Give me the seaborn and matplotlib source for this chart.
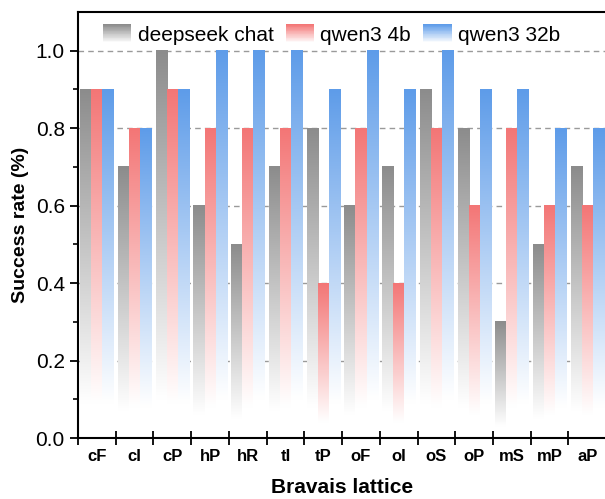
"""Success rate per Bravais lattice, grouped gradient bars."""

import matplotlib
matplotlib.use("Agg")
import matplotlib.pyplot as plt
import matplotlib.colors as mcolors
from matplotlib.legend_handler import HandlerBase
from matplotlib.patches import Rectangle
import numpy as np
import pandas as pd
import seaborn as sns

lattices = ["cF", "cI", "cP", "hP", "hR", "tI", "tP", "oF", "oI", "oS", "oP", "mS", "mP", "aP"]
models = ["deepseek chat", "qwen3 4b", "qwen3 32b"]
deepseek_chat = [0.9, 0.7, 1.0, 0.6, 0.5, 0.7, 0.8, 0.6, 0.7, 0.9, 0.8, 0.3, 0.5, 0.7]
qwen3_4b = [0.9, 0.8, 0.9, 0.8, 0.8, 0.8, 0.4, 0.8, 0.4, 0.8, 0.6, 0.8, 0.6, 0.6]
qwen3_32b = [0.9, 0.8, 0.9, 1.0, 1.0, 1.0, 0.9, 1.0, 0.9, 1.0, 0.9, 0.9, 0.8, 0.8]
colors = ["#8c8c8c", "#f37676", "#5e9ce9"]

sns.set_theme(style="ticks")
plt.rcParams["font.family"] = ["Liberation Sans", "DejaVu Sans"]
plt.rcParams.update({"text.color": "black", "axes.labelcolor": "black",
                     "xtick.color": "black", "ytick.color": "black"})


def fade(color, n=200, start=0.1):
    # rows go bottom -> top: white near the base, full colour at the top
    t = np.linspace(0, 1, n)
    mix = np.clip((t - start) / (1 - start), 0, 1)
    rgb = np.array(mcolors.to_rgb(color))
    img = 1 - mix[:, None] * (1 - rgb[None, :])
    return img[:, None, :]


class GradientHandler(HandlerBase):
    def create_artists(self, legend, orig, xd, yd, width, height, fontsize, trans):
        color = orig.get_facecolor()
        strips = fade(color, n=24, start=0.0)[:, 0, :]
        arts = []
        h = height / len(strips)
        for i, c in enumerate(strips):
            r = Rectangle((-xd, -yd + i * h), width, h * 1.02, facecolor=c,
                          edgecolor="none", transform=trans)
            arts.append(r)
        return arts


df = pd.DataFrame({
    "lattice": lattices * 3,
    "model": sum([[m] * len(lattices) for m in models], []),
    "rate": deepseek_chat + qwen3_4b + qwen3_32b,
})

fig = plt.figure(figsize=(6.05, 4.99), dpi=100)
ax = fig.add_axes([0.129, 0.1222, 0.873, 0.854])

sns.barplot(df, x="lattice", y="rate", hue="model", hue_order=models,
            palette=colors, saturation=1, width=0.88, gap=0, legend=False,
            ax=ax, edgecolor="none", linewidth=0)

for patch in list(ax.patches):
    x0, w, h = patch.get_x(), patch.get_width(), patch.get_height()
    fc = patch.get_facecolor()
    ax.imshow(fade(fc), extent=(x0, x0 + w, 0, h), origin="lower",
              aspect="auto", interpolation="bilinear", zorder=2)
    patch.set_visible(False)

ax.set_xlim(-0.5, len(lattices) - 0.5)
ax.set_ylim(0, 1.1)

ax.set_xticks(np.arange(-0.5, len(lattices), 1))
ax.set_xticklabels([])
ax.set_xticks(np.arange(len(lattices)), minor=True)
ax.set_xticklabels(lattices, minor=True, fontsize=12, fontweight="bold")
ax.tick_params(axis="x", which="major", direction="inout", length=10, width=1.3, color="black")
ax.tick_params(axis="x", which="minor", length=0, pad=8)

ax.set_yticks(np.arange(0, 1.01, 0.2))
ax.set_yticks(np.arange(0.1, 1.1, 0.2), minor=True)
ax.set_yticklabels([f"{v:.1f}" for v in np.arange(0, 1.01, 0.2)], fontsize=15)
ax.tick_params(axis="y", which="major", direction="out", length=6, width=1.3, color="black")
ax.tick_params(axis="y", which="minor", direction="out", length=3.5, width=1.2, color="black")

for y in np.arange(0.2, 1.01, 0.2):
    ax.axhline(y, color="#9a9a9a", lw=1.0, ls=(0, (4, 3)), zorder=1)

for side in ["left", "bottom", "top"]:
    ax.spines[side].set_color("black")
    ax.spines[side].set_linewidth(1.5)
ax.spines["right"].set_visible(False)

ax.set_xlabel("Bravais lattice", fontsize=15, fontweight="bold", labelpad=10)
ax.set_ylabel("Success rate (%)", fontsize=14, fontweight="bold", labelpad=5)

handles = [Rectangle((0, 0), 1, 1, facecolor=c) for c in colors]
ax.legend(handles, models, loc="upper center", ncol=3, frameon=False,
          fontsize=15, handlelength=1.35, handleheight=1.0, handletextpad=0.3,
          columnspacing=0.6, borderaxespad=0.2, bbox_to_anchor=(0.48, 1.0),
          handler_map={Rectangle: GradientHandler()})

fig.savefig("out.png", dpi=100)
